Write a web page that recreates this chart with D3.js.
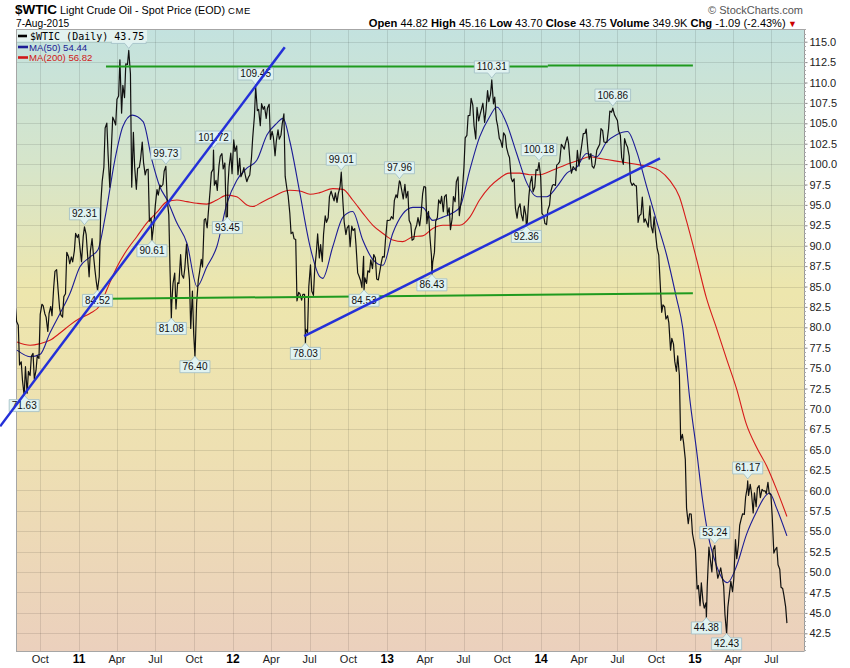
<!DOCTYPE html>
<html><head><meta charset="utf-8">
<script src="https://cdn.jsdelivr.net/npm/d3@7"></script>
<style>
body{margin:0;background:#fff;}
svg{display:block;font-family:"Liberation Sans",Arial,sans-serif;}
</style>
</head><body>
<svg id="c" width="850" height="668"></svg>
<script>
// ---------------- DATA ----------------
const weekStart = "2010-08-06"; // first Friday close; one value every 7 days
const weeklyClose = [
 80.70,75.39,73.46,75.17,74.60,76.45,73.66,76.49,81.58,82.66,81.25,81.69,81.43,86.85,84.88,81.51,83.76,89.19,87.79,88.02,91.51,91.38,
 88.03,91.54,89.11,89.34,89.03,85.58,86.20,97.88,104.42,101.16,101.07,105.40,107.94,112.79,109.66,112.29,113.93,97.18,99.65,99.49,100.59,100.22,99.29,93.01,91.16,94.94,96.20,97.24,99.13,95.70,86.88,85.38,82.26,85.37,86.45,87.24,87.96,79.85,79.20,82.98,86.80,87.40,93.32,94.26,98.99,97.41,96.77,100.96,99.41,93.53,99.68,98.83,
 101.56,98.70,98.46,99.56,97.84,98.67,103.24,109.77,106.70,107.40,107.06,106.87,103.02,103.31,102.83,103.05,104.93,98.49,96.13,91.48,90.86,83.23,84.10,84.03,79.76,84.96,84.45,87.10,91.44,90.13,91.40,92.87,96.01,96.15,96.47,96.42,99.00,92.89,92.19,89.88,91.86,90.05,86.28,84.86,86.07,86.92,88.28,88.91,85.93,86.73,88.66,90.80,
 93.09,93.56,95.56,95.88,97.77,95.72,95.86,93.13,90.68,91.95,93.45,93.71,97.23,92.70,91.29,88.01,93.00,95.61,96.04,96.02,93.84,91.97,96.03,97.85,93.69,96.56,103.22,105.95,108.05,104.70,106.94,106.03,107.46,106.42,107.65,110.53,108.21,104.67,102.87,103.84,102.02,100.81,97.85,94.61,94.60,93.84,94.84,92.72,97.65,96.60,99.32,100.32,
 93.96,92.72,94.37,96.64,97.49,99.88,100.30,102.20,102.59,102.58,98.89,99.46,101.67,101.14,103.74,104.30,100.60,99.76,99.99,102.02,104.35,102.71,102.66,106.50,107.26,105.74,104.06,100.83,103.13,102.09,97.88,97.65,97.35,93.65,95.96,93.29,92.27,92.41,93.54,89.74,85.82,82.75,81.01,80.54,78.65,75.82,76.51,66.15,65.84,57.81,57.13,54.73,
 52.69,48.36,48.69,45.59,48.24,51.69,52.78,50.81,49.76,49.61,44.84,45.72,48.87,49.14,51.64,55.74,57.15,59.15,59.39,59.69,59.72,60.30,59.13,59.96,59.61,59.63,56.93,52.74,50.89,48.14,47.12,43.75
];
// Tuesday closes, three days before each Friday above
const midweekClose = [
 82.55,80.25,75.77,71.63,71.92,74.09,76.80,74.71,76.18,82.82,81.67,79.49,82.55,84.90,87.06,82.34,81.25,84.11,88.69,88.62,89.37,91.00,
 89.38,91.11,91.38,86.19,90.86,86.94,85.00,95.42,99.63,105.02,97.18,105.75,104.79,108.34,106.25,108.15,112.21,111.05,103.88,96.91,99.59,102.70,98.67,99.37,93.40,92.89,96.89,97.43,97.50,99.59,93.79,82.90,86.65,85.44,88.90,86.02,90.21,85.81,84.45,77.80,85.81,88.34,93.17,92.19,96.80,99.37,98.01,99.79,101.28,100.14,97.22,101.34,
 102.96,102.24,100.71,98.95,98.48,98.41,100.74,105.84,106.55,104.70,106.71,105.61,107.33,104.01,101.02,104.20,103.55,106.16,97.01,93.98,91.66,90.76,84.29,83.32,84.03,79.36,87.66,83.91,89.22,88.50,88.06,93.67,93.43,96.68,95.49,95.30,97.17,95.29,91.37,92.48,92.39,92.09,86.67,85.70,88.71,85.38,86.75,87.18,88.49,85.80,87.93,88.60,
 93.12,93.15,93.28,96.24,97.57,96.64,97.51,96.66,92.63,90.82,92.54,92.44,96.34,97.19,94.20,88.72,89.18,93.46,95.16,94.17,96.25,94.65,93.31,95.38,98.44,95.32,99.60,103.53,105.96,107.23,103.08,105.30,106.83,105.11,109.01,108.54,107.39,105.42,103.13,102.04,103.49,101.21,98.30,98.20,93.37,95.14,93.03,93.68,96.04,98.51,97.22,99.22,
 98.42,93.67,92.59,94.99,97.41,97.38,100.06,102.43,101.83,103.33,100.03,99.70,99.19,99.74,102.56,103.75,101.75,101.28,99.50,101.70,102.44,104.11,102.66,104.35,106.36,106.03,105.34,103.53,99.96,102.39,100.97,97.38,97.37,92.86,93.86,92.88,92.75,94.88,91.56,91.16,88.85,81.84,82.49,81.42,77.19,77.94,74.61,74.09,66.88,63.82,55.93,57.12,
 53.61,47.93,45.89,46.39,46.23,53.05,50.02,53.24,49.25,50.52,48.29,42.43,47.51,47.60,53.98,53.29,56.61,57.06,60.40,60.75,57.26,58.03,60.60,60.14,59.97,61.01,59.47,52.33,53.04,50.36,47.98,45.74
];
// labelled extremes: [date, close, kind]
const extremes = [
 ["2010-08-24",71.63,"low"],["2011-01-14",92.31,"high"],["2011-02-14",84.52,"low"],["2011-04-29",113.93,"high"],
 ["2011-06-23",90.61,"low"],["2011-07-26",99.73,"high"],["2011-08-08",81.08,"low"],["2011-10-03",76.40,"low"],
 ["2011-11-16",101.72,"high"],["2011-12-19",93.45,"low"],["2012-02-24",109.45,"high"],["2012-06-21",78.03,"low"],
 ["2012-09-14",99.01,"high"],["2012-11-07",84.53,"low"],["2013-01-30",97.96,"high"],["2013-04-17",86.43,"low"],
 ["2013-09-06",110.31,"high"],["2013-11-27",92.36,"low"],["2013-12-27",100.18,"high"],["2014-06-20",106.86,"high"],
 ["2015-01-28",44.38,"low"],["2015-02-17",53.24,"high"],["2015-03-17",42.43,"low"],["2015-05-06",61.17,"high"]
];
const ma50 = [
 ["2010-08-07",77.2],["2010-09-07",76.4],["2010-10-01",76.7],["2010-10-24",79.3],["2010-11-17",81.7],["2010-12-11",84.2],
 ["2011-01-03",87.4],["2011-01-27",88.6],["2011-02-15",89.5],["2011-03-04",93.5],["2011-03-27",100.5],["2011-04-15",104.6],
 ["2011-05-07",106.0],["2011-06-02",105.2],["2011-06-23",100.5],["2011-07-12",97.2],["2011-07-29",95.6],["2011-08-21",92.8],
 ["2011-09-14",90.3],["2011-10-08",85.0],["2011-10-31",87.4],["2011-11-24",89.9],["2011-12-18",95.2],["2012-01-10",98.0],
 ["2012-02-03",99.5],["2012-02-27",100.5],["2012-03-22",103.6],["2012-04-14",105.0],["2012-04-29",105.6],["2012-05-15",102.8],
 ["2012-06-08",96.4],["2012-07-02",89.9],["2012-07-25",86.2],["2012-08-01",86.0],["2012-08-25",89.9],["2012-09-18",93.5],
 ["2012-10-11",94.2],["2012-11-04",90.7],["2012-11-28",88.3],["2012-12-22",87.6],["2013-01-14",91.5],["2013-02-07",93.9],
 ["2013-03-03",94.7],["2013-03-26",94.7],["2013-04-19",93.1],["2013-05-13",93.5],["2013-06-05",94.0],["2013-06-22",94.7],
 ["2013-07-16",99.3],["2013-08-08",103.3],["2013-09-01",105.8],["2013-09-18",107.0],["2013-10-11",105.0],["2013-11-04",101.3],
 ["2013-11-28",97.7],["2013-12-22",96.0],["2014-01-14",96.0],["2014-02-07",97.2],["2014-03-03",98.9],["2014-03-26",99.6],
 ["2014-04-19",101.3],["2014-05-13",100.9],["2014-06-05",102.7],["2014-06-29",103.6],["2014-07-25",104.0],["2014-08-16",101.5],
 ["2014-09-08",97.3],["2014-10-02",93.0],["2014-10-26",88.8],["2014-11-18",83.6],["2014-12-03",79.9],["2014-12-19",71.5],
 ["2015-01-05",64.8],["2015-01-19",58.8],["2015-02-05",53.6],["2015-02-21",50.8],["2015-03-07",49.2],["2015-03-19",48.7],
 ["2015-04-10",50.8],["2015-05-03",54.6],["2015-05-27",57.4],["2015-06-20",59.5],["2015-06-27",59.7],["2015-07-13",57.9],
 ["2015-08-07",54.44]
];
const ma200 = [
 ["2010-08-07",78.2],["2010-09-07",77.8],["2010-10-01",78.0],["2010-10-24",78.4],["2010-11-17",79.3],["2010-12-11",80.3],
 ["2011-01-03",81.1],["2011-01-27",81.7],["2011-02-20",82.7],["2011-03-08",84.6],["2011-04-01",87.4],["2011-04-25",89.5],
 ["2011-05-18",91.1],["2011-06-11",92.8],["2011-07-05",94.1],["2011-07-29",95.4],["2011-08-21",95.6],["2011-09-14",95.4],
 ["2011-10-08",95.2],["2011-10-31",95.1],["2011-11-24",95.6],["2011-12-18",96.2],["2012-01-10",96.0],["2012-02-03",95.0],
 ["2012-02-17",94.8],["2012-03-12",95.4],["2012-04-05",96.0],["2012-04-29",96.6],["2012-05-15",96.8],["2012-06-08",96.7],
 ["2012-07-02",96.3],["2012-07-25",96.5],["2012-08-25",97.0],["2012-09-18",96.9],["2012-10-11",95.6],["2012-11-04",94.0],
 ["2012-11-28",92.5],["2012-12-22",91.5],["2013-01-14",90.7],["2013-02-07",90.5],["2013-03-03",91.1],["2013-03-26",91.2],
 ["2013-04-19",92.1],["2013-05-13",92.5],["2013-06-05",92.5],["2013-06-22",92.5],["2013-07-16",93.5],["2013-08-08",95.6],
 ["2013-09-01",97.2],["2013-09-23",98.2],["2013-10-17",98.9],["2013-11-11",98.9],["2013-12-05",98.7],["2013-12-29",98.7],
 ["2014-01-21",99.1],["2014-02-14",99.6],["2014-03-10",100.1],["2014-04-02",100.5],["2014-04-26",100.9],["2014-05-20",100.7],
 ["2014-06-13",100.5],["2014-07-06",100.3],["2014-07-30",100.1],["2014-08-23",99.9],["2014-09-15",99.7],["2014-10-09",99.2],
 ["2014-11-02",98.0],["2014-11-25",96.0],["2014-12-12",93.0],["2015-01-05",88.3],["2015-01-28",83.6],["2015-02-21",79.9],
 ["2015-03-17",76.1],["2015-04-10",72.4],["2015-05-03",68.1],["2015-05-27",65.3],["2015-06-20",63.0],["2015-07-13",60.2],
 ["2015-08-07",56.82]
];
// hand-drawn annotation lines: [date, price] endpoints
const blueTrend1 = [["2010-06-28",67.87],["2012-05-03",114.33]];
const blueTrend2 = [["2012-06-18",78.93],["2014-10-10",100.69]];
const greenTop1 = [["2011-03-06",111.95],["2014-01-17",111.95]];
const greenTop2 = [["2014-01-17",112.07],["2014-12-27",112.07]];
const greenLow = [["2011-01-12",83.47],["2014-12-27",84.17]];
const yTicks = [42.5,45,47.5,50,52.5,55,57.5,60,62.5,65,67.5,70,72.5,75,77.5,80,82.5,85,87.5,90,92.5,95,97.5,100,102.5,105,107.5,110,112.5,115];
const xTicks = [["2010-10-01","Oct"],["2011-01-01","11"],["2011-04-01","Apr"],["2011-07-01","Jul"],["2011-10-01","Oct"],
 ["2012-01-01","12"],["2012-04-01","Apr"],["2012-07-01","Jul"],["2012-10-01","Oct"],["2013-01-01","13"],["2013-04-01","Apr"],
 ["2013-07-01","Jul"],["2013-10-01","Oct"],["2014-01-01","14"],["2014-04-01","Apr"],["2014-07-01","Jul"],["2014-10-01","Oct"],
 ["2015-01-01","15"],["2015-04-01","Apr"],["2015-07-01","Jul"]];
const headerStats = [["Open","44.82"],["High","45.16"],["Low","43.70"],["Close","43.75"],["Volume","349.9K"],["Chg","-1.09 (-2.43%)"]];
const legendItems = [["$WTIC (Daily) 43.75","#000"],["MA(50) 54.44","#1c1c96"],["MA(200) 56.82","#d01818"]];

// ---------------- CHART ----------------
const parse = d3.utcParse("%Y-%m-%d");
const fmt = d3.utcFormat("%Y-%m-%d");
const P = {l:16, r:804, t:29, b:651};
const x = d3.scaleUtc().domain([parse("2011-01-01"), parse("2015-01-01")]).range([79, 695]);
const y = d3.scaleLinear().domain([42.5, 115]).range([633.3, 41.7]);
const svg = d3.select("#c");
const defs = svg.append("defs");
const g0 = defs.append("linearGradient").attr("id","bg").attr("x1",0).attr("y1",0).attr("x2",0).attr("y2",1);
[[0,"#c3e2df"],[0.22,"#d6e5ca"],[0.42,"#ede6ad"],[0.68,"#eee0b2"],[1,"#ebd0bd"]].forEach(s=>g0.append("stop").attr("offset",s[0]).attr("stop-color",s[1]));
defs.append("clipPath").attr("id","clip").append("rect").attr("x",P.l).attr("y",P.t).attr("width",P.r-P.l).attr("height",P.b-P.t);

svg.append("rect").attr("x",P.l).attr("y",P.t).attr("width",P.r-P.l).attr("height",P.b-P.t).attr("fill","url(#bg)");

// grid
const grid = svg.append("g").attr("stroke","#000").attr("stroke-opacity",0.1).attr("shape-rendering","crispEdges");
yTicks.forEach(v=>grid.append("line").attr("x1",P.l).attr("x2",P.r).attr("y1",Math.round(y(v))+0.5).attr("y2",Math.round(y(v))+0.5));
xTicks.forEach(t=>{const xx=Math.round(x(parse(t[0])))+0.5; grid.append("line").attr("x1",xx).attr("x2",xx).attr("y1",P.t).attr("y2",P.b);});

// frame
const fr = svg.append("g").attr("stroke","#a6a6a6").attr("shape-rendering","crispEdges");
fr.append("line").attr("x1",P.l+0.5).attr("x2",P.l+0.5).attr("y1",P.t).attr("y2",P.b+0.5);
fr.append("line").attr("x1",P.l).attr("x2",P.r).attr("y1",P.t+0.5).attr("y2",P.t+0.5);
fr.append("line").attr("x1",P.l).attr("x2",P.r).attr("y1",P.b+0.5).attr("y2",P.b+0.5);

// right axis
const yAxis = d3.axisRight(y).tickValues(yTicks).tickFormat(d3.format(".1f")).tickSize(3).tickPadding(2);
const ya = svg.append("g").attr("transform",`translate(${P.r+0.5},0)`).call(yAxis);
ya.select(".domain").remove();
ya.selectAll("text").attr("font-family","Liberation Sans, Arial, sans-serif").attr("font-size",11).attr("fill","#222");
ya.selectAll(".tick line").attr("stroke","#888");
svg.append("line").attr("x1",P.r+0.5).attr("x2",P.r+0.5).attr("y1",P.t).attr("y2",P.b+0.5).attr("stroke","#9a9a9a");
const minor = d3.range(Math.ceil(y.invert(P.b)*2)/2, y.invert(P.t), 0.5);
svg.append("g").selectAll("line").data(minor).join("line")
  .attr("x1",P.r).attr("x2",P.r+2).attr("y1",d=>Math.round(y(d))+0.5).attr("y2",d=>Math.round(y(d))+0.5)
  .attr("stroke","#aaa");

// x labels
const xl = svg.append("g");
xTicks.forEach(t=>{
  const yr = /^\d+$/.test(t[1]);
  xl.append("text").attr("x",x(parse(t[0]))).attr("y",663).attr("text-anchor","middle")
    .attr("font-size",yr?12:11).attr("font-weight",yr?"bold":"normal").attr("fill",yr?"#000":"#222").text(t[1]);
});

// price series (Friday + Tuesday closes, with labelled extremes)
const byDate = new Map();
weeklyClose.forEach((v,i)=>{
  const fri = d3.utcDay.offset(parse(weekStart), i*7);
  byDate.set(fmt(d3.utcDay.offset(fri,-3)), midweekClose[i]);
  byDate.set(fmt(fri), v);
});
extremes.forEach(e=>byDate.set(e[0], e[1]));
const price = Array.from(byDate, ([d,v])=>({date:parse(d), value:v})).sort((a,b)=>a.date-b.date);

const plotG = svg.append("g").attr("clip-path","url(#clip)");
const line = d3.line().x(d=>x(d.date)).y(d=>y(d.value));
const lineMA = d3.line().x(d=>x(parse(d[0]))).y(d=>y(d[1])).curve(d3.curveMonotoneX);
plotG.append("path").datum(ma200).attr("d",lineMA).attr("fill","none").attr("stroke","#d61a1a").attr("stroke-width",1.1);
plotG.append("path").datum(ma50).attr("d",lineMA).attr("fill","none").attr("stroke","#1c1c96").attr("stroke-width",1.1);
plotG.append("path").datum(price).attr("d",line).attr("fill","none").attr("stroke","#111").attr("stroke-width",1.2).attr("stroke-linejoin","round");

// annotations
const annG = svg.append("g");
const legendRight = P.l + 131, legendBottom = P.t + 13;
extremes.forEach(([ds,v,kind])=>{
  const px = x(parse(ds)), py = y(v);
  const t = annG.append("text").attr("font-size",10).attr("fill","#111").attr("text-anchor","middle").text(v.toFixed(2));
  const w = t.node().getComputedTextLength()+5, h = 12, hw = w/2;
  let p, by;
  if(kind==="high"){
    by = py-19;
    p = `M${px-hw},${by}H${px+hw}V${by+h}H${px+4}L${px},${py-2}L${px-4},${by+h}H${px-hw}Z`;
  } else {
    by = py+4;
    p = `M${px-hw},${by}H${px-4}L${px},${py-0.5}L${px+4},${by}H${px+hw}V${by+h}H${px-hw}Z`;
  }
  annG.insert("path","text").attr("d",p).attr("fill","#e1f3f1").attr("stroke","#9fbcc4").attr("stroke-width",0.8);
  // a label sitting under the legend is hidden by it, as in the original
  if (by < legendBottom && px - hw < legendRight) t.remove();
  else t.attr("x",px).attr("y",by+9.5);
});
annG.selectAll("text").raise();

// drawn lines
const seg = d3.line().x(d=>x(parse(d[0]))).y(d=>y(d[1]));
[greenTop1,greenTop2,greenLow].forEach(s=>plotG.append("path").datum(s).attr("d",seg).attr("stroke","#1f9a1f").attr("stroke-width",2).attr("fill","none"));
[blueTrend1,blueTrend2].forEach(s=>svg.append("path").datum(s).attr("d",seg).attr("stroke","#2430d8").attr("stroke-width",2.5).attr("fill","none"));

// legend
const lg = svg.append("g");
lg.append("rect").attr("x",P.l+1).attr("y",P.t+1).attr("width",130).attr("height",11.5).attr("fill","#e3f2ef");
legendItems.forEach((it,i)=>{
  const by = [39.5,50.5,61][i];
  lg.append("line").attr("x1",18).attr("x2",i===0?27:28).attr("y1",by-3.5).attr("y2",by-3.5).attr("stroke",it[1]).attr("stroke-width",2.6);
  lg.append("text").attr("x",i===0?30:29).attr("y",by).attr("fill",it[1])
    .attr("font-family",i===0?"DejaVu Sans Mono, monospace":"Liberation Sans, Arial, sans-serif")
    .attr("font-size",i===0?10:9.6).text(it[0]);
});

// header
const h1 = svg.append("text").attr("x",15).attr("y",14).attr("fill","#000");
h1.append("tspan").attr("font-weight","bold").attr("font-size",13.5).text("$WTIC");
h1.append("tspan").attr("font-size",10.8).text(" Light Crude Oil - Spot Price (EOD) ");
h1.append("tspan").attr("font-size",9.5).attr("letter-spacing",0.6).text("CME");
svg.append("text").attr("x",16).attr("y",27).attr("font-size",10.2).attr("fill","#000").text("7-Aug-2015");
svg.append("text").attr("x",803).attr("y",14).attr("font-size",11).attr("text-anchor","end").attr("fill","#555").text("© StockCharts.com");
const h2 = svg.append("text").attr("x",797).attr("y",27).attr("text-anchor","end").attr("fill","#000");
headerStats.forEach((s,i)=>{
  h2.append("tspan").attr("font-weight","bold").attr("font-size",11.2).text((i?" ":"")+s[0]);
  h2.append("tspan").attr("font-size",11).text(" "+s[1]);
});
h2.append("tspan").attr("font-size",9).attr("fill","#c00").text(" ▼");
</script>
</body></html>
